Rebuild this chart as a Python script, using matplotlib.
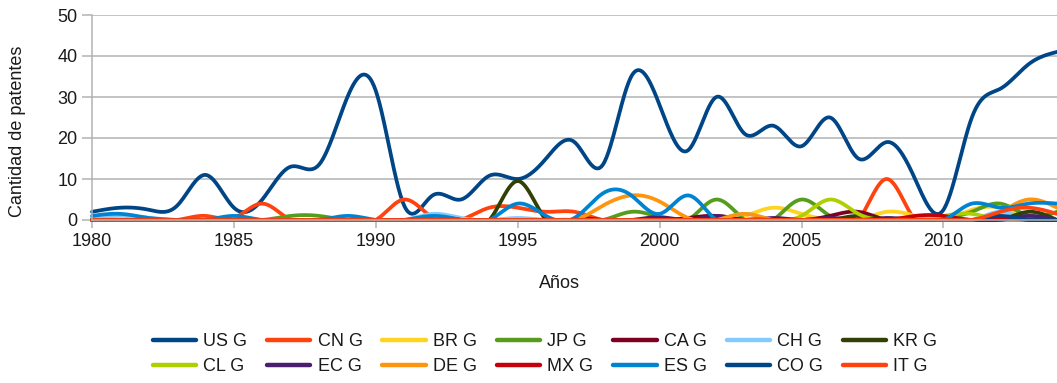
import numpy as np
import matplotlib
matplotlib.use('Agg')
import matplotlib.pyplot as plt

# Patentes por pais y por anio (1980-2014)
years = list(range(1980, 2015))

us_g = [2, 3, 2.5, 3.5, 11, 3, 5, 13, 13.5, 30, 31.5, 3.5, 6, 5, 10.8, 10, 15, 19, 13.5, 35,
        28, 17, 30, 21, 23, 18, 25, 15, 19, 10, 2.5, 25, 32, 38, 41]
cn_g = [0, 0, 0, 0, 1, 0.5, 4, 0, 0, 0, 0, 5, 0.5, 0, 3, 3, 2, 2, 0, 0,
        0, 0, 0, 0, 0, 0, 0, 0, 10, 0, 0, 0, 0, 0, 0]
br_g = [0, 0, 0, 0, 0, 0, 0, 0, 0, 0, 0, 0, 0, 0, 0, 0, 0, 0, 0, 0,
        0, 0, 0, 1, 3, 1.5, 0, 0, 2, 1, 0, 2.5, 3, 1, 0]
jp_g = [0, 0, 0, 0, 0, 0, 0, 1, 1, 0, 0, 0, 0, 0, 0, 0, 0, 0, 0, 2,
        0.5, 0, 5, 0, 0, 5, 1, 0, 0, 0, 0.5, 2, 4, 1, 2]
ca_g = [0, 0, 0, 0, 0, 0, 0, 0, 0, 0, 0, 0, 0, 0, 0, 0, 0, 0, 0, 0,
        0, 0.5, 1, 0, 0, 0, 1, 2, 0, 0, 0, 0, 0, 0, 0]
ch_g = [0.5, 1, 0.5, 0, 0, 0.5, 0, 0, 0, 0, 0, 0, 1.5, 0.5, 0, 0.5, 0, 0, 0, 0,
        0, 0, 0, 1.5, 0, 0, 0, 0, 0, 0, 0, 0, 2, 0, 0]
kr_g = [0, 0, 0, 0, 0, 0, 0, 0, 0, 0, 0, 0, 0, 0, 0, 9.5, 0, 0, 0, 0,
        0, 0, 0, 0, 0, 0, 0, 1, 0, 0, 0, 0, 0, 2, 0]
cl_g = [0, 0, 0, 0, 0, 0, 0, 0, 0, 0, 0, 0, 0, 0, 0, 0, 0, 0, 0, 0,
        0, 0, 0, 0, 0, 1, 5, 1.5, 0, 0, 1, 1.5, 0, 0, 0]
ec_g = [0, 0, 0, 0, 0, 0, 0, 0, 0, 0, 0, 0, 0, 0, 0, 0, 0, 0, 0, 0,
        0.7, 0, 1, 0, 0.5, 0, 0.5, 0, 0.5, 0, 0, 0, 0, 1, 0]
de_g = [0, 0, 0, 0, 0, 0, 0, 0, 0, 0, 0, 0, 0, 0, 0, 0, 0, 0, 3.5, 6,
        4.5, 0.5, 0, 1.5, 0, 0, 0, 0, 0, 0, 0, 0, 2, 5, 3]
mx_g = [0, 0, 0, 0, 0, 0, 0, 0, 0, 0, 0, 0, 0, 0, 0, 0, 0, 0, 0, 0,
        0, 0, 0, 0, 0, 0, 0, 0, 0, 1, 1, 0, 0.5, 0, 0]
es_g = [1, 1.5, 0.5, 0, 0, 1, 0, 0, 0, 1, 0, 0, 1, 0, 0, 4, 1, 0.5, 6.5, 6,
        1.5, 6, 0, 0, 0, 0, 0, 0, 0, 0, 0, 4, 3, 4, 4]
co_g = [0, 0, 0, 0, 0, 0, 0, 0, 0, 0, 0, 0, 0, 0, 0, 0, 0, 0, 0, 0,
        0, 0, 0, 0, 0, 0, 0, 0, 0, 0, 0, 0, 1, 0, 0]
it_g = [0, 0, 0, 0, 0, 0, 0, 0, 0, 0, 0, 0, 0, 0, 0, 0, 0, 0, 0, 0,
        0, 0, 0, 0, 0, 0, 0, 0, 0, 0, 0, 0, 2, 3, 1.5]

labels = ['US G', 'CN G', 'BR G', 'JP G', 'CA G', 'CH G', 'KR G',
          'CL G', 'EC G', 'DE G', 'MX G', 'ES G', 'CO G', 'IT G']
series = [us_g, cn_g, br_g, jp_g, ca_g, ch_g, kr_g,
          cl_g, ec_g, de_g, mx_g, es_g, co_g, it_g]
colors = ['#004586', '#ff420e', '#ffd320', '#579d1c', '#7e0021', '#83caff', '#314004',
          '#aecf00', '#4b1f6f', '#ff950e', '#c5000b', '#0084d1', '#004586', '#ff420e']


def natural_spline(x, y, n=30):
    # natural cubic spline through (x, y), n samples per interval
    x = np.asarray(x, float)
    y = np.asarray(y, float)
    m = len(x)
    h = np.diff(x)
    A = np.zeros((m, m))
    b = np.zeros(m)
    A[0, 0] = A[-1, -1] = 1
    for i in range(1, m - 1):
        A[i, i - 1] = h[i - 1]
        A[i, i] = 2 * (h[i - 1] + h[i])
        A[i, i + 1] = h[i]
        b[i] = 6 * ((y[i + 1] - y[i]) / h[i] - (y[i] - y[i - 1]) / h[i - 1])
    M = np.linalg.solve(A, b)
    xs, ys = [], []
    for i in range(m - 1):
        t = np.linspace(x[i], x[i + 1], n, endpoint=(i == m - 2))
        a = (x[i + 1] - t) / h[i]
        c = (t - x[i]) / h[i]
        s = (a * y[i] + c * y[i + 1]
             + ((a ** 3 - a) * M[i] + (c ** 3 - c) * M[i + 1]) * h[i] ** 2 / 6)
        xs.append(t)
        ys.append(s)
    return np.concatenate(xs), np.concatenate(ys)


plt.rcParams['font.family'] = ['Liberation Sans', 'DejaVu Sans']
grey = '#b3b3b3'
txt = '#1a1a1a'

fig = plt.figure(figsize=(10.57, 3.83), dpi=100)
ax = fig.add_axes([92 / 1057, 1 - 220 / 383, 1 - 92 / 1057, 205 / 383])

handles = []
for vals, lab, col in zip(series, labels, colors):
    sx, sy = natural_spline(years, vals)
    sy = np.clip(sy, 0, None)
    ln, = ax.plot(sx, sy, color=col, lw=2.7, label=lab, clip_on=False,
                  solid_capstyle='round', solid_joinstyle='round')
    handles.append(ln)

ax.set_xlim(1980, 2014)
ax.set_ylim(0, 50)
ax.set_xticks(range(1980, 2011, 5))
ax.set_yticks(range(0, 51, 10))
ax.grid(axis='y', color=grey, lw=1.1)
ax.set_axisbelow(True)
for side in ('top', 'right'):
    ax.spines[side].set_visible(False)
for side in ('left', 'bottom'):
    ax.spines[side].set_color(grey)
    ax.spines[side].set_linewidth(1.1)
ax.tick_params(axis='y', length=7, width=1.1, color=grey, pad=3.5,
               labelsize=13, labelcolor=txt)
ax.tick_params(axis='x', length=6, width=1.1, color=grey, pad=3,
               labelsize=13, labelcolor=txt)

fig.text(559 / 1057, 1 - 283 / 383, 'Años', ha='center', va='center',
         fontsize=13, color=txt)
fig.text(18 / 1057, 1 - 131 / 383, 'Cantidad de patentes', ha='center',
         va='center', rotation=90, fontsize=13, color=txt)

# legend fills column by column, so interleave the two rows
ncol = 7
order = [r * ncol + c for c in range(ncol) for r in range(2)]
leg = fig.legend([handles[i] for i in order], [labels[i] for i in order],
                 ncol=ncol, loc='center',
                 bbox_to_anchor=(545 / 1057, 1 - 354 / 383), frameon=False,
                 fontsize=13, handlelength=2.4, handletextpad=0.4,
                 columnspacing=1.1, labelspacing=0.45)
for line in leg.get_lines():
    line.set_linewidth(3.2)
for t in leg.get_texts():
    t.set_color(txt)

fig.savefig('out.png', dpi=100)
